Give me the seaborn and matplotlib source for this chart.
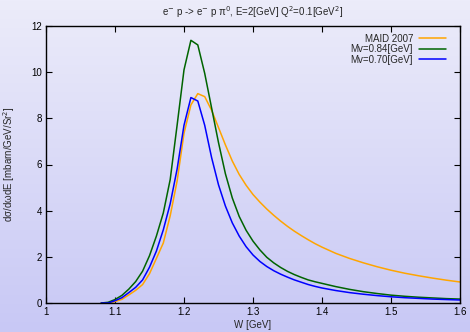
import numpy as np
import pandas as pd
import matplotlib
matplotlib.use("Agg")
import matplotlib.pyplot as plt
import seaborn as sns

# ---- data ----
W = [1.08, 1.09, 1.10, 1.11, 1.12, 1.13, 1.14, 1.15, 1.16, 1.17, 1.18, 1.19,
     1.20, 1.21, 1.22, 1.23, 1.24, 1.25, 1.26, 1.27, 1.28, 1.29, 1.30, 1.31,
     1.32, 1.33, 1.34, 1.35, 1.36, 1.37, 1.38, 1.39, 1.40,
     1.42, 1.44, 1.46, 1.48, 1.50, 1.52, 1.54, 1.56, 1.58, 1.60]
maid = [0.0, 0.0, 0.06, 0.16, 0.35, 0.55, 0.80, 1.27, 1.93, 2.6, 3.78, 5.28,
        7.35, 8.58, 9.07, 8.94, 8.35, 7.6, 6.85, 6.15, 5.57, 5.1, 4.7, 4.37,
        4.07, 3.80, 3.55, 3.32, 3.11, 2.92, 2.74, 2.57, 2.42,
        2.15, 1.93, 1.74, 1.57, 1.42, 1.29, 1.18, 1.08, 0.99, 0.91]
mv084 = [0.0, 0.03, 0.15, 0.33, 0.6, 0.93, 1.38, 2.05, 2.9, 3.9, 5.35, 7.7,
         10.1, 11.38, 11.18, 9.95, 8.45, 6.95, 5.6, 4.55, 3.75, 3.15, 2.68,
         2.3, 1.98, 1.74, 1.54, 1.37, 1.23, 1.11, 1.0, 0.92, 0.85,
         0.71, 0.59, 0.49, 0.41, 0.34, 0.29, 0.25, 0.22, 0.19, 0.17]
mv070 = [0.0, 0.0, 0.10, 0.23, 0.45, 0.68, 1.0, 1.55, 2.25, 3.17, 4.3, 5.8,
         7.7, 8.9, 8.75, 7.7, 6.3, 5.12, 4.2, 3.47, 2.9, 2.44, 2.08, 1.8,
         1.58, 1.4, 1.25, 1.12, 1.0, 0.9, 0.8, 0.72, 0.65,
         0.54, 0.45, 0.38, 0.32, 0.27, 0.23, 0.20, 0.17, 0.15, 0.13]
series_names = ["MAID 2007", "Mv=0.84[GeV]", "Mv=0.70[GeV]"]
series_colors = ["#FFA500", "#006400", "#0000FF"]
x_ticks = [1.0, 1.1, 1.2, 1.3, 1.4, 1.5, 1.6]
x_tick_labels = ["1", "1.1", "1.2", "1.3", "1.4", "1.5", "1.6"]
y_ticks = [0, 2, 4, 6, 8, 10, 12]

df = pd.concat([
    pd.DataFrame({"W": W, "val": v, "series": n})
    for n, v in zip(series_names, [maid, mv084, mv070])
], ignore_index=True)

sns.set_theme(style="ticks")
plt.rcParams["font.family"] = ["Liberation Sans", "DejaVu Sans"]

fig = plt.figure(figsize=(4.7, 3.32), dpi=100)

# background gradient
bg = fig.add_axes([0, 0, 1, 1], zorder=-10)
top = np.array([236, 236, 250]) / 255.0
bot = np.array([200, 200, 245]) / 255.0
t = np.linspace(0, 1, 256)[:, None]
grad = top[None, :] * (1 - t) + bot[None, :] * t
bg.imshow(grad[:, None, :], aspect="auto", extent=[0, 1, 0, 1])
bg.set_axis_off()

ax = fig.add_axes([46 / 470, 29 / 332, 414 / 470, 277 / 332])
ax.set_facecolor("none")

sns.lineplot(data=df, x="W", y="val", hue="series", hue_order=series_names,
             palette=dict(zip(series_names, series_colors)), linewidth=1.1,
             ax=ax, estimator=None, sort=False)

ax.set_xlim(1.0, 1.6)
ax.set_ylim(0, 12)
ax.set_xticks(x_ticks)
ax.set_xticklabels(x_tick_labels)
ax.set_yticks(y_ticks)
ax.tick_params(direction="in", length=4, width=0.8, labelsize=7, top=True,
               right=True, colors="black", pad=3)
for s in ax.spines.values():
    s.set_linewidth(1.0)
    s.set_color("black")

ax.set_xlabel("W [GeV]", fontsize=7, labelpad=2)
ax.set_ylabel("dσ/dωdE [mbarn/GeV/Sr$^2$]", fontsize=7, labelpad=10)
ax.set_title("e$^{-}$ p -> e$^{-}$ p π$^{0}$, E=2[GeV] Q$^{2}$=0.1[GeV$^{2}$]",
             fontsize=7, pad=7)

leg = ax.legend(loc="upper right", bbox_to_anchor=(0.985, 1.0), frameon=False,
                markerfirst=False, fontsize=7, handlelength=2.8,
                labelspacing=0.05, handletextpad=0.6, borderaxespad=0.4)

fig.savefig("out.png", dpi=100)
